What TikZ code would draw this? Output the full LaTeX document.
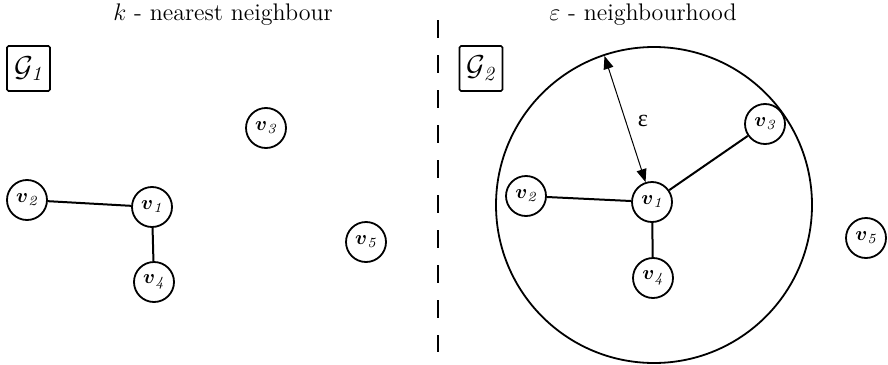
\documentclass[tikz,border=0pt]{standalone}
\usepackage{amsmath}
\usepackage{fontspec}
\newfontfamily\grkfont{Liberation Serif}
\usetikzlibrary{arrows.meta}
\tikzset{
  vert/.style={circle,draw,line width=0.9pt,minimum size=20pt,inner sep=0pt,font=\normalsize},
  edgeline/.style={line width=1pt},
  gbox/.style={draw,line width=0.8pt,rounded corners=0.8pt,minimum width=21.5pt,minimum height=22.5pt,inner sep=0pt,font=\Large},
  titletext/.style={font=\large},
  sepline/.style={line width=1pt,dash pattern=on 9pt off 8.5pt},
  radarrow/.style={line width=0.5pt,{Triangle[length=6.5pt,width=5pt]}-{Triangle[length=6.5pt,width=5pt]}},
}
\newcommand{\vlab}[1]{{\boldmath$v$}$_{\mathit{#1}}$}
\begin{document}
\begin{tikzpicture}[x=0.5pt,y=-0.5pt]
\useasboundingbox (0,0) rectangle (888,364);
% titles
\node[titletext] (t1) at (223,15) {$k$ - nearest neighbour};
\node[titletext] (t2) at (643,15) {$\varepsilon$ - neighbourhood};
% separator
\coordinate (s1) at (438,20);
\coordinate (s2) at (438,352);
\draw[sepline] (s1) -- (s2);
% graph labels
\node[gbox] (g1) at (28.5,68.5) {$\mathcal{G}_{\mathit 1}$};
\node[gbox] (g2) at (481,68.5) {$\mathcal{G}_{\mathit 2}$};
% left graph
\node[vert] (a1) at (152,207) {\vlab{1}};
\node[vert] (a2) at (27,200) {\vlab{2}};
\node[vert] (a3) at (266,128) {\vlab{3}};
\node[vert] (a4) at (154,282) {\vlab{4}};
\node[vert] (a5) at (366,242) {\vlab{5}};
\draw[edgeline] (a2) -- (a1);
\draw[edgeline] (a1) -- (a4);
% right graph
\node[circle,draw,line width=0.9pt,minimum size=158pt,inner sep=0pt] (big) at (654,205) {};
\node[vert] (b1) at (652,202) {\vlab{1}};
\node[vert] (b2) at (526,196) {\vlab{2}};
\node[vert] (b3) at (765,124) {\vlab{3}};
\node[vert] (b4) at (653,278) {\vlab{4}};
\node[vert] (b5) at (866,238) {\vlab{5}};
\draw[edgeline] (b2) -- (b1);
\draw[edgeline] (b1) -- (b4);
\draw[edgeline] (b1) -- (b3);
\coordinate (etip) at (604.5,56);
\draw[radarrow] (etip) -- (b1);
\node[font=\large] (eps) at (643,121) {\grkfont ε};
\end{tikzpicture}
\end{document}
